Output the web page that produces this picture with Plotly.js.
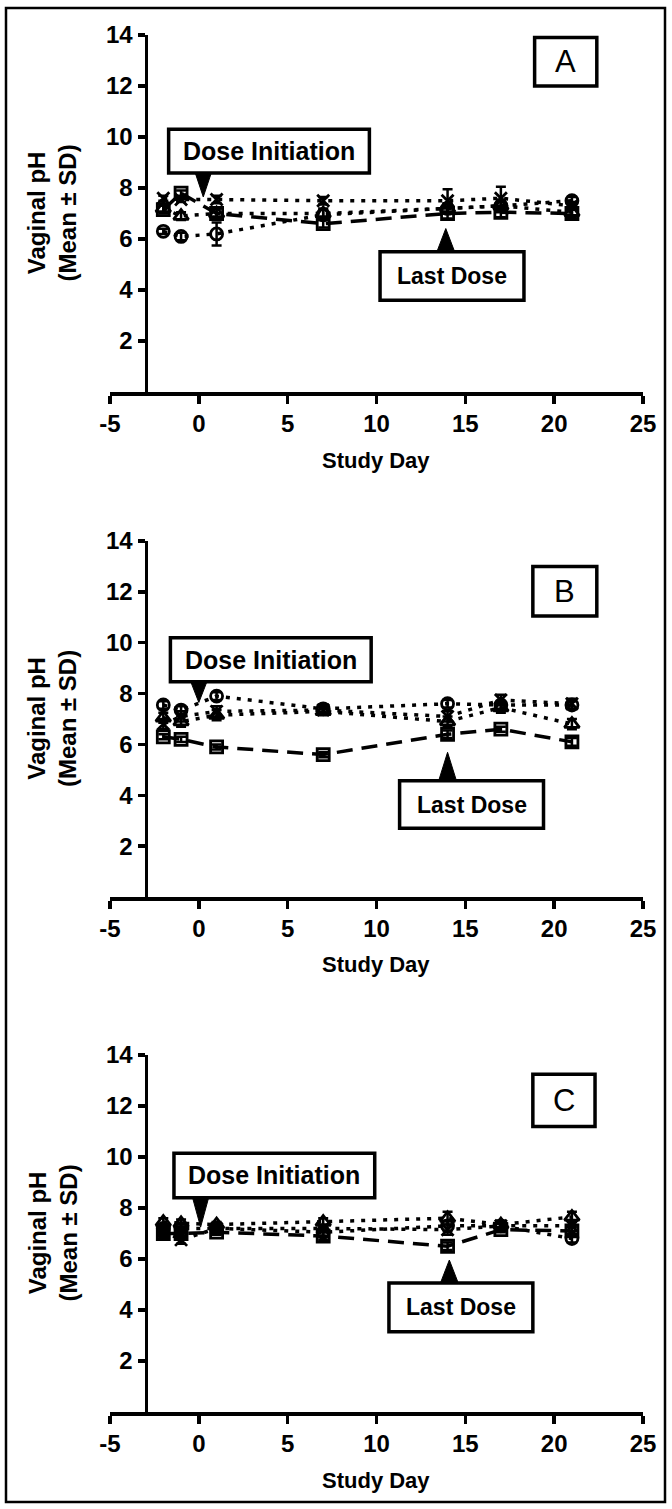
<!DOCTYPE html>
<html>
<head>
<meta charset="utf-8">
<script src="https://cdn.plot.ly/plotly-3.0.1.min.js"></script>
<style>html,body{margin:0;padding:0;background:#fff;}#chart{width:672px;height:1509px;}</style>
</head>
<body>
<div id="chart"></div>
<script>
// ---- data ----
const days = [-2, -1, 1, 7, 14, 17, 21];
const xTicks = [-5, 0, 5, 10, 15, 20, 25];
const yTicks = [2, 4, 6, 8, 10, 12, 14];
const panelLetters = ["A", "B", "C"];

// Panel A
const A_circle   = [6.3, 6.1, 6.2, 6.95, 7.2, 7.3, 7.5];
const A_square   = [7.15, 7.8, 7.0, 6.6, 7.0, 7.05, 7.0];
const A_triangle = [7.2, 6.9, 7.0, 7.0, 7.2, 7.3, 7.05];
const A_cross    = [7.6, 7.55, 7.55, 7.5, 7.5, 7.6, 7.3];
const A_circle_sd   = [0.1, 0.15, 0.45, 0.2, 0.2, 0.25, 0.15];
const A_square_sd   = [0.15, 0.1, 0.2, 0.15, 0.2, 0.2, 0.15];
const A_triangle_sd = [0.15, 0.15, 0.2, 0.2, 0.2, 0.2, 0.15];
const A_cross_sd    = [0.1, 0.1, 0.15, 0.15, 0.45, 0.45, 0.15];

// Panel B
const B_circle   = [7.55, 7.35, 7.9, 7.4, 7.6, 7.55, 7.55];
const B_square   = [6.3, 6.2, 5.9, 5.6, 6.4, 6.6, 6.1];
const B_triangle = [7.05, 6.9, 7.15, 7.3, 6.9, 7.45, 6.8];
const B_cross    = [6.8, 7.1, 7.3, 7.35, 7.1, 7.75, 7.6];
const B_circle_sd   = [0.15, 0.15, 0.15, 0.15, 0.15, 0.15, 0.15];
const B_square_sd   = [0.1, 0.1, 0.1, 0.1, 0.15, 0.1, 0.15];
const B_triangle_sd = [0.2, 0.2, 0.2, 0.15, 0.2, 0.2, 0.2];
const B_cross_sd    = [0.2, 0.2, 0.2, 0.15, 0.2, 0.2, 0.2];

// Panel C
const C_circle   = [7.2, 7.2, 7.2, 7.05, 7.3, 7.3, 6.8];
const C_square   = [7.0, 7.0, 7.05, 6.9, 6.5, 7.15, 7.1];
const C_triangle = [7.45, 7.4, 7.35, 7.45, 7.6, 7.35, 7.65];
const C_cross    = [7.1, 6.75, 7.2, 7.2, 7.15, 7.3, 7.3];
const C_circle_sd   = [0.15, 0.15, 0.15, 0.15, 0.2, 0.15, 0.15];
const C_square_sd   = [0.15, 0.15, 0.1, 0.15, 0.15, 0.1, 0.15];
const C_triangle_sd = [0.15, 0.15, 0.1, 0.15, 0.25, 0.15, 0.2];
const C_cross_sd    = [0.15, 0.15, 0.1, 0.15, 0.2, 0.15, 0.2];

// ---- annotation positions (data coordinates of each panel) ----
const doseBoxes = [[-1.7, 9.6, 8.59, 10.3], [-1.6, 9.7, 8.46, 10.2], [-1.4, 9.9, 8.4, 10.15]];
const doseTips  = [[0.25, 7.65], [0.0, 7.65], [0.1, 7.25]];
const lastBoxes = [[10.2, 18.3, 3.6, 5.5], [11.3, 19.4, 2.7, 4.57], [10.7, 18.8, 3.15, 5.06]];
const lastTips  = [[13.9, 6.41], [14.0, 5.69], [14.1, 5.96]];
const letterBoxes = [[18.9, 22.4, 12.0, 13.9], [18.8, 22.4, 11.05, 13.0], [18.8, 22.3, 11.2, 13.25]];

// ---- layout geometry ----
const W = 672, H = 1509;
const xPix = [110, 643];
const yPix = [[35, 392], [541, 897], [1055, 1412]];
const xDom = [xPix[0] / W, xPix[1] / W];
const yAxisPos = xDom[0] + (2 / 30) * (xDom[1] - xDom[0]);

const FONT = "Liberation Sans, Arial, Helvetica, sans-serif";

const panels = [
  {c: A_circle, s: A_square, t: A_triangle, x: A_cross, cs: A_circle_sd, ss: A_square_sd, ts: A_triangle_sd, xs: A_cross_sd},
  {c: B_circle, s: B_square, t: B_triangle, x: B_cross, cs: B_circle_sd, ss: B_square_sd, ts: B_triangle_sd, xs: B_cross_sd},
  {c: C_circle, s: C_square, t: C_triangle, x: C_cross, cs: C_circle_sd, ss: C_square_sd, ts: C_triangle_sd, xs: C_cross_sd}
];

const DOT = "4px,7px";
const DASH = "16px,9px";

const traces = [];
const layout = {
  width: W, height: H,
  margin: {l: 0, r: 0, t: 0, b: 0},
  paper_bgcolor: "#fff", plot_bgcolor: "rgba(0,0,0,0)",
  showlegend: false,
  font: {family: FONT, color: "#000"},
  shapes: [],
  annotations: []
};

function series(y, sd, symbol, size, dash, xa, ya) {
  return {
    type: "scatter", mode: "lines+markers", x: days, y: y,
    xaxis: xa, yaxis: ya,
    line: {color: "#000", width: 3.5, dash: dash},
    marker: {symbol: symbol, size: size, color: "#000", line: {color: "#000", width: 2.8}},
    error_y: {type: "data", array: sd, visible: true, color: "#000", thickness: 2.5, width: 5},
    cliponaxis: false, hoverinfo: "skip"
  };
}

panels.forEach((p, i) => {
  const n = i === 0 ? "" : String(i + 1);
  const xa = "x" + n, ya = "y" + n;
  const yd = [1 - yPix[i][1] / H, 1 - yPix[i][0] / H];

  traces.push(series(p.c, p.cs, "circle-open", 12, DOT, xa, ya));
  traces.push(series(p.t, p.ts, "triangle-up-open", 13, DOT, xa, ya));
  traces.push(series(p.x, p.xs, "x-thin-open", 12, DOT, xa, ya));
  traces.push(series(p.s, p.ss, "square-open", 12, DASH, xa, ya));

  layout["xaxis" + n] = {
    domain: xDom, range: [-5, 25], anchor: ya,
    tickmode: "array", tickvals: xTicks, ticktext: xTicks.map(String),
    ticks: "outside", ticklen: 8, tickwidth: 3.5, tickcolor: "#000",
    showline: true, linewidth: 3.5, linecolor: "#000",
    showgrid: false, zeroline: false, fixedrange: true,
    tickfont: {family: FONT, size: 24, weight: "bold", color: "#000"}
  };
  layout["yaxis" + n] = {
    domain: yd, range: [0, 14], anchor: "free", position: yAxisPos,
    tickmode: "array", tickvals: yTicks, ticktext: yTicks.map(String),
    ticks: "outside", ticklen: 7, tickwidth: 3.5, tickcolor: "#000",
    showline: true, linewidth: 3.5, linecolor: "#000",
    showgrid: false, zeroline: false, fixedrange: true,
    tickfont: {family: FONT, size: 24, weight: "bold", color: "#000"}
  };

  // boxes
  const rect = (b) => ({type: "rect", xref: xa, yref: ya, x0: b[0], x1: b[1], y0: b[2], y1: b[3],
    fillcolor: "#fff", line: {color: "#000", width: 3.5}, layer: "above"});
  layout.shapes.push(rect(doseBoxes[i]));
  layout.shapes.push(rect(lastBoxes[i]));
  layout.shapes.push(rect(letterBoxes[i]));

  // arrow heads
  const db = doseBoxes[i], dt = doseTips[i];
  layout.shapes.push({type: "path", xref: xa, yref: ya, layer: "above",
    path: `M ${dt[0] - 0.45} ${db[2]} L ${dt[0] + 0.45} ${db[2]} L ${dt[0]} ${dt[1]} Z`,
    fillcolor: "#000", line: {color: "#000", width: 1}});
  const lb = lastBoxes[i], lt = lastTips[i];
  layout.shapes.push({type: "path", xref: xa, yref: ya, layer: "above",
    path: `M ${lt[0] - 0.5} ${lb[3]} L ${lt[0] + 0.5} ${lb[3]} L ${lt[0]} ${lt[1]} Z`,
    fillcolor: "#000", line: {color: "#000", width: 1}});

  // texts
  layout.annotations.push({xref: xa, yref: ya, x: (db[0] + db[1]) / 2, y: (db[2] + db[3]) / 2,
    text: "Dose Initiation", showarrow: false, xanchor: "center", yanchor: "middle",
    font: {family: FONT, size: 25, weight: "bold", color: "#000"}});
  layout.annotations.push({xref: xa, yref: ya, x: (lb[0] + lb[1]) / 2, y: (lb[2] + lb[3]) / 2,
    text: "Last Dose", showarrow: false, xanchor: "center", yanchor: "middle",
    font: {family: FONT, size: 23, weight: "bold", color: "#000"}});
  const lt2 = letterBoxes[i];
  layout.annotations.push({xref: xa, yref: ya, x: (lt2[0] + lt2[1]) / 2, y: (lt2[2] + lt2[3]) / 2,
    text: panelLetters[i], showarrow: false, xanchor: "center", yanchor: "middle",
    font: {family: FONT, size: 31, color: "#000"}});

  // axis titles
  layout.annotations.push({xref: "paper", yref: "paper", x: 52 / W, y: 1 - (yPix[i][0] + yPix[i][1]) / 2 / H,
    text: "Vaginal pH<br>(Mean ± SD)", textangle: -90, showarrow: false,
    xanchor: "center", yanchor: "middle",
    font: {family: FONT, size: 24, weight: "bold", color: "#000"}});
  layout.annotations.push({xref: "paper", yref: "paper", x: (xPix[0] + xPix[1]) / 2 / W, y: 1 - (yPix[i][1] + 68) / H,
    text: "Study Day", showarrow: false, xanchor: "center", yanchor: "middle",
    font: {family: FONT, size: 22, weight: "bold", color: "#000"}});
});

// outer frame
layout.shapes.push({type: "rect", xref: "paper", yref: "paper",
  x0: 6 / W, x1: 665 / W, y0: 1 - 1502 / H, y1: 1 - 8 / H,
  line: {color: "#000", width: 2.5}, fillcolor: "rgba(0,0,0,0)"});

Plotly.newPlot("chart", traces, layout, {staticPlot: true, displayModeBar: false});
</script>
</body>
</html>
